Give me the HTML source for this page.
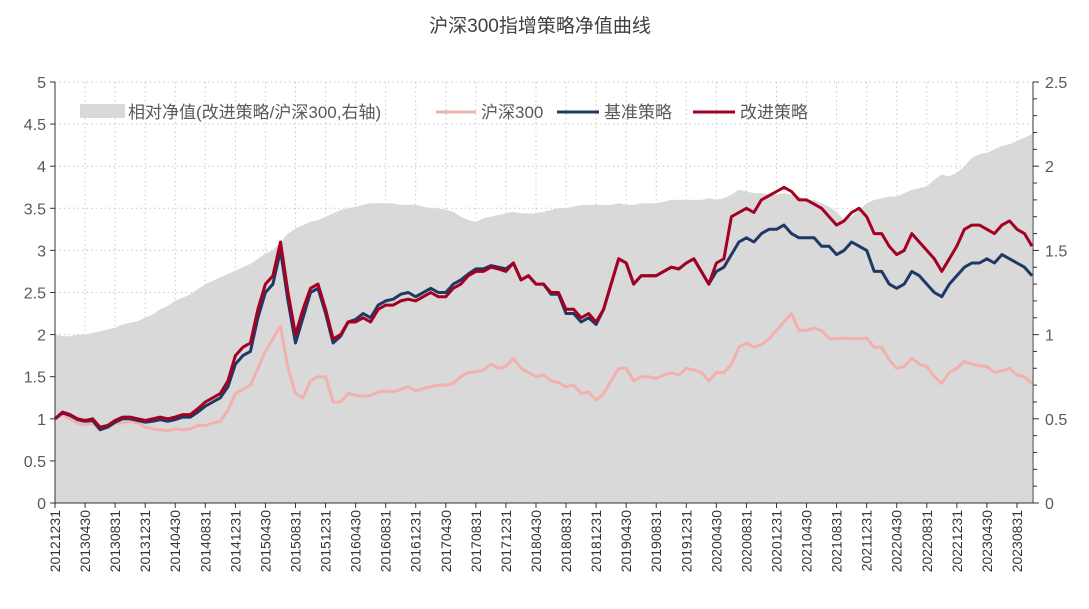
<!DOCTYPE html>
<html><head><meta charset="utf-8"><style>
body{margin:0;background:#fff;}
svg{display:block;font-family:"Liberation Sans","Noto Sans CJK SC",sans-serif;}
</style></head><body>
<svg id="chart" width="1089" height="609"></svg>
<script>
const labels=['20121231','20130430','20130831','20131231','20140430','20140831','20141231','20150430','20150831','20151231','20160430','20160831','20161231','20170430','20170831','20171231','20180430','20180831','20181231','20190430','20190831','20191231','20200430','20200831','20201231','20210430','20210831','20211231','20220430','20220831','20221231','20230430','20230831'];
const leftTicks=[0,0.5,1,1.5,2,2.5,3,3.5,4,4.5,5];
const rightTicks=[0,0.5,1,1.5,2,2.5];
const csi300=[1.0,
1.05,1.0,0.95,0.93,0.95,0.87,0.9,0.95,0.95,0.97,0.95,0.9,
0.88,0.87,0.86,0.88,0.87,0.88,0.92,0.92,0.95,0.97,1.1,1.3,
1.35,1.4,1.6,1.8,1.95,2.1,1.6,1.3,1.25,1.45,1.5,1.5,
1.2,1.2,1.3,1.28,1.27,1.28,1.32,1.33,1.32,1.35,1.38,1.33,
1.36,1.38,1.4,1.4,1.42,1.5,1.55,1.56,1.58,1.65,1.6,1.62,
1.72,1.6,1.55,1.5,1.52,1.45,1.43,1.38,1.4,1.3,1.32,1.22,
1.3,1.45,1.6,1.6,1.45,1.5,1.5,1.48,1.52,1.55,1.52,1.6,
1.58,1.55,1.45,1.55,1.55,1.65,1.85,1.9,1.85,1.88,1.95,2.05,
2.15,2.25,2.05,2.05,2.08,2.05,1.95,1.95,1.96,1.95,1.95,1.96,
1.85,1.85,1.7,1.6,1.62,1.72,1.65,1.62,1.5,1.42,1.55,1.6,
1.68,1.65,1.63,1.62,1.55,1.57,1.6,1.52,1.5,1.42];
const baseStrategy=[1.0,
1.07,1.04,0.99,0.97,0.98,0.87,0.9,0.96,1.0,1.0,0.98,0.96,
0.97,0.99,0.97,0.99,1.02,1.02,1.08,1.15,1.2,1.25,1.38,1.65,
1.75,1.8,2.2,2.5,2.6,3.0,2.4,1.9,2.2,2.5,2.55,2.25,
1.9,1.98,2.15,2.18,2.25,2.2,2.35,2.4,2.42,2.48,2.5,2.45,
2.5,2.55,2.5,2.5,2.6,2.65,2.72,2.78,2.78,2.82,2.8,2.78,
2.85,2.65,2.7,2.6,2.6,2.48,2.48,2.25,2.25,2.15,2.2,2.12,
2.3,2.6,2.9,2.85,2.6,2.7,2.7,2.7,2.75,2.8,2.78,2.85,
2.9,2.75,2.6,2.75,2.8,2.95,3.1,3.15,3.1,3.2,3.25,3.25,
3.3,3.2,3.15,3.15,3.15,3.05,3.05,2.95,3.0,3.1,3.05,3.0,
2.75,2.75,2.6,2.55,2.6,2.75,2.7,2.6,2.5,2.45,2.6,2.7,
2.8,2.85,2.85,2.9,2.85,2.95,2.9,2.85,2.8,2.7];
const improvedStrategy=[1.0,
1.08,1.05,1.0,0.98,1.0,0.9,0.92,0.98,1.02,1.02,1.0,0.98,
1.0,1.02,1.0,1.02,1.05,1.05,1.12,1.2,1.25,1.3,1.45,1.75,
1.85,1.9,2.3,2.6,2.7,3.1,2.5,2.0,2.3,2.55,2.6,2.3,
1.95,2.0,2.15,2.15,2.2,2.15,2.3,2.35,2.35,2.4,2.42,2.4,
2.45,2.5,2.45,2.45,2.55,2.6,2.7,2.75,2.75,2.8,2.78,2.75,
2.85,2.65,2.7,2.6,2.6,2.5,2.5,2.3,2.3,2.2,2.25,2.15,
2.3,2.6,2.9,2.85,2.6,2.7,2.7,2.7,2.75,2.8,2.78,2.85,
2.9,2.75,2.6,2.85,2.9,3.4,3.45,3.5,3.45,3.6,3.65,3.7,
3.75,3.7,3.6,3.6,3.55,3.5,3.4,3.3,3.35,3.45,3.5,3.4,
3.2,3.2,3.05,2.95,3.0,3.2,3.1,3.0,2.9,2.75,2.9,3.05,
3.25,3.3,3.3,3.25,3.2,3.3,3.35,3.25,3.2,3.05];
const relative=[1.0,
0.99,0.99,1.0,1.0,1.01,1.02,1.03,1.04,1.06,1.07,1.08,1.1,
1.12,1.15,1.17,1.2,1.22,1.24,1.27,1.3,1.32,1.34,1.36,1.38,
1.4,1.42,1.45,1.48,1.5,1.55,1.6,1.63,1.65,1.67,1.68,1.7,
1.72,1.74,1.75,1.76,1.77,1.78,1.78,1.78,1.78,1.77,1.77,1.77,
1.76,1.75,1.75,1.74,1.73,1.7,1.68,1.67,1.69,1.7,1.71,1.72,
1.73,1.72,1.72,1.72,1.73,1.74,1.75,1.75,1.76,1.77,1.77,1.77,
1.77,1.77,1.78,1.77,1.77,1.78,1.78,1.78,1.79,1.8,1.8,1.8,
1.8,1.8,1.81,1.8,1.81,1.83,1.86,1.85,1.84,1.84,1.83,1.83,
1.84,1.83,1.82,1.8,1.8,1.78,1.76,1.73,1.68,1.7,1.74,1.78,
1.8,1.81,1.82,1.82,1.84,1.86,1.87,1.88,1.92,1.95,1.94,1.96,
2.0,2.05,2.07,2.08,2.1,2.12,2.13,2.15,2.17,2.19];

const NS='http://www.w3.org/2000/svg';
const svg=document.getElementById('chart');
const X0=55,X1=1033,YT=82,YB=503;
const xm=i=>X0+i*((X1-X0-1)/130);
const yl=v=>YB-(v/5)*(YB-YT);
const yr=v=>YB-(v/2.5)*(YB-YT);
function mk(tag,attrs,parent){const e=document.createElementNS(NS,tag);for(const k in attrs)e.setAttribute(k,attrs[k]);(parent||svg).appendChild(e);return e;}

const t=mk('text',{x:540,y:32,'text-anchor':'middle','font-size':19,fill:'#404040'});
t.textContent='沪深300指增策略净值曲线';



leftTicks.forEach(v=>{if(v===0)return;
 const g=mk('line',{x1:X0,x2:X1,y1:yl(v),y2:yl(v),stroke:'#c8c8c8','stroke-dasharray':'1.5,3'});
 
 });
labels.forEach((l,j)=>{if(j===0)return;const x=xm(j*4);
 const g=mk('line',{x1:x,x2:x,y1:YT,y2:YB,stroke:'#c8c8c8','stroke-dasharray':'1.5,3'});
 
 });

let d='M'+xm(0)+','+YB;
relative.forEach((v,i)=>{d+=' L'+xm(i).toFixed(1)+','+yr(v).toFixed(1);});
d+=' L'+xm(relative.length-1).toFixed(1)+','+YB+' Z';
const area=mk('path',{d:d,fill:'#d9d9d9'});



function line(arr,color,name){
 const p=mk('path',{d:arr.map((v,i)=>(i?'L':'M')+xm(i).toFixed(1)+','+yl(v).toFixed(1)).join(' '),fill:'none',stroke:color,'stroke-width':3,'stroke-linejoin':'round'});
 
 
}
line(csi300,'#f2b1ad','csi300-line');
line(baseStrategy,'#203864','base-strategy-line');
line(improvedStrategy,'#a50021','improved-strategy-line');

const ax=mk('g',{stroke:'#333','stroke-width':1});


mk('line',{x1:X0,x2:X0,y1:YT,y2:YB},ax);
mk('line',{x1:X1,x2:X1,y1:YT,y2:YB},ax);
mk('line',{x1:X0,x2:X1,y1:YB,y2:YB},ax);
leftTicks.forEach(v=>{mk('line',{x1:X0-5,x2:X0,y1:yl(v),y2:yl(v)},ax);
 const tx=mk('text',{x:46,y:yl(v)+6,'text-anchor':'end','font-size':16,fill:'#595959',stroke:'none'});
 tx.textContent=String(v);
 
 });
for(let k=0;k<=25;k++){const v=k/10;mk('line',{x1:X1,x2:X1+(k%5===0?6:4),y1:yr(v),y2:yr(v)},ax);}
rightTicks.forEach(v=>{
 const tx=mk('text',{x:1045,y:yr(v)+6,'font-size':16,fill:'#595959',stroke:'none'});
 tx.textContent=String(v);
 
 });
labels.forEach((l,j)=>{const x=xm(j*4);
 mk('line',{x1:x,x2:x,y1:YB,y2:YB+5},ax);
 const tx=mk('text',{x:0,y:0,transform:'translate('+(x+5)+','+(YB+7)+') rotate(-90)','text-anchor':'end','font-size':14,fill:'#333',stroke:'none'});
 tx.textContent=l;
 
 });

const lg=mk('g',{});


const r=mk('rect',{x:80,y:104,width:45,height:14,fill:'#d9d9d9'},lg);


function ltext(x,s,n){const e=mk('text',{x:x,y:118,'font-size':17,fill:'#595959'},lg);e.textContent=s;
 
 }
ltext(128,'相对净值(改进策略/沪深300,右轴)','legend-entry-relative');
function lline(x1,x2,c,n){const e=mk('line',{x1:x1,x2:x2,y1:112,y2:112,stroke:c,'stroke-width':3},lg);
 
 }
lline(436,476,'#f2b1ad','legend-swatch-csi300');
ltext(481,'沪深300','legend-entry-csi300');
lline(557,599,'#203864','legend-swatch-base');
ltext(604,'基准策略','legend-entry-base');
lline(693,735,'#a50021','legend-swatch-improved');
ltext(740,'改进策略','legend-entry-improved');
</script>
</body></html>
